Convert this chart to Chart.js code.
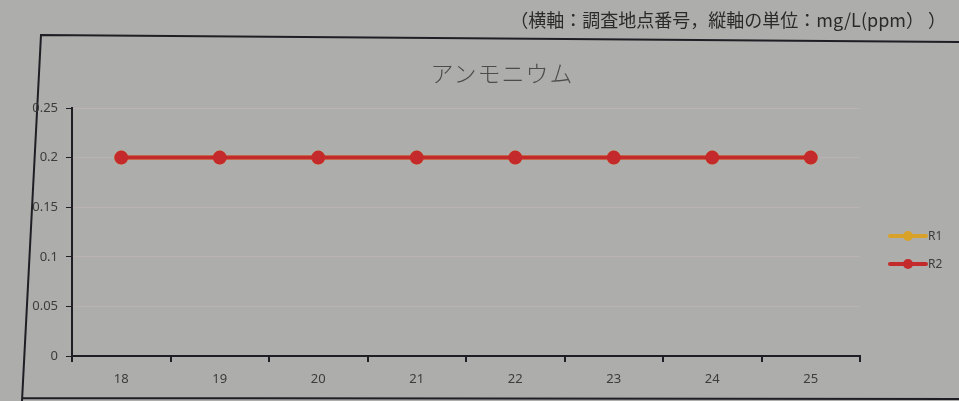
<!DOCTYPE html>
<html lang="ja">
<head>
<meta charset="utf-8">
<script src="https://cdn.jsdelivr.net/npm/chart.js@4.4.1/dist/chart.umd.min.js"></script>
<style>
  html, body { margin: 0; padding: 0; background: #adadab; }
  #wrap { position: relative; width: 959px; height: 401px; overflow: hidden; }
  #note {
    position: absolute; right: 13px; top: 6px;
    font-family: "Noto Sans CJK JP", sans-serif; font-size: 18px; color: #2a2a2a;
    white-space: nowrap;
  }
  #title {
    position: absolute; left: 502px; top: 72px; transform: translate(-50%, -50%);
    font-family: "Noto Sans CJK JP", sans-serif; font-size: 23px; color: #4c4c4c;
    font-weight: 300; white-space: nowrap; letter-spacing: 1px;
  }
  canvas { position: absolute; left: 0; top: 0; }
</style>
</head>
<body>
<div id="wrap">
  <canvas id="c" width="959" height="401"></canvas>
  <div id="note">（横軸：調査地点番号，縦軸の単位：mg/L(ppm） ）</div>
  <div id="title"></div>
</div>
<script>
// Survey point numbers along the horizontal axis
const sites = ['18', '19', '20', '21', '22', '23', '24', '25'];
// Ammonium concentration, mg/L (ppm)
const r1Values = [0.2, 0.2, 0.2, 0.2, 0.2, 0.2, 0.2, 0.2];
const r2Values = [0.2, 0.2, 0.2, 0.2, 0.2, 0.2, 0.2, 0.2];
const seriesNames = ['R1', 'R2'];
const chartTitle = 'アンモニウム';

document.getElementById('title').textContent = chartTitle;

const INK = '#1e1e24';
const TICK_TEXT = '#3c3c3c';

// Outer frame of the chart object
const framePlugin = {
  id: 'frame',
  beforeDraw(chart) {
    const ctx = chart.ctx;
    ctx.save();
    ctx.strokeStyle = INK;
    ctx.lineWidth = 2;
    ctx.beginPath();
    ctx.moveTo(959, 42);
    ctx.lineTo(41, 35);
    ctx.lineTo(22, 401);
    ctx.moveTo(22, 398);
    ctx.lineTo(959, 399);
    ctx.stroke();
    ctx.restore();
  }
};

// Vertical legend at the right: line sample with a marker, then the name
const sideLegend = {
  id: 'sideLegend',
  afterDraw(chart) {
    const ctx = chart.ctx;
    const x0 = chart.chartArea.right + 30;
    const ys = [236, 264];
    ctx.save();
    chart.data.datasets.forEach((ds, i) => {
      const y = ys[i];
      ctx.strokeStyle = ds.borderColor;
      ctx.lineWidth = 4;
      ctx.lineCap = 'round';
      ctx.beginPath();
      ctx.moveTo(x0, y);
      ctx.lineTo(x0 + 36, y);
      ctx.stroke();
      ctx.fillStyle = ds.pointBackgroundColor;
      ctx.beginPath();
      ctx.arc(x0 + 18, y, 5, 0, Math.PI * 2);
      ctx.fill();
      ctx.fillStyle = TICK_TEXT;
      ctx.font = '12px "Noto Sans", sans-serif';
      ctx.textBaseline = 'middle';
      ctx.textAlign = 'left';
      ctx.fillText(ds.label, x0 + 38, y + 1);
    });
    ctx.restore();
  }
};

new Chart(document.getElementById('c'), {
  type: 'line',
  data: {
    labels: sites,
    datasets: [
      {
        label: seriesNames[0],
        data: r1Values,
        order: 1,
        borderColor: '#d8a22a',
        backgroundColor: '#d8a22a',
        pointBackgroundColor: '#d8a22a',
        pointBorderColor: '#d8a22a',
        borderWidth: 4,
        pointRadius: 5,
        tension: 0
      },
      {
        label: seriesNames[1],
        data: r2Values,
        order: 0,
        borderColor: '#c42a2c',
        backgroundColor: '#c42a2c',
        pointBackgroundColor: '#c42a2c',
        pointBorderColor: '#c42a2c',
        borderWidth: 4,
        pointRadius: 5,
        tension: 0
      }
    ]
  },
  options: {
    responsive: false,
    animation: false,
    layout: { padding: { top: 108, right: 99, bottom: 0, left: 0 } },
    plugins: {
      legend: { display: false },
      tooltip: { enabled: false },
      title: { display: false }
    },
    scales: {
      x: {
        offset: true,
        grid: {
          offset: true,
          drawOnChartArea: false,
          tickColor: INK,
          tickLength: 6,
          lineWidth: 2
        },
        border: { color: INK, width: 2 },
        ticks: {
          color: TICK_TEXT,
          font: { family: '"Noto Sans", sans-serif', size: 13 },
          padding: 9
        },
        afterFit(scale) { scale.height = 45; }
      },
      y: {
        min: 0,
        max: 0.25,
        ticks: {
          stepSize: 0.05,
          color: TICK_TEXT,
          font: { family: '"Noto Sans", sans-serif', size: 13 },
          padding: 8,
          callback: (v) => String(Math.round(v * 100) / 100)
        },
        grid: {
          color: '#bbb3b3',
          lineWidth: 1,
          tickColor: INK,
          tickLength: 6
        },
        border: { color: INK, width: 2 },
        afterFit(scale) { scale.width = 72; }
      }
    }
  },
  plugins: [framePlugin, sideLegend]
});
</script>
</body>
</html>
